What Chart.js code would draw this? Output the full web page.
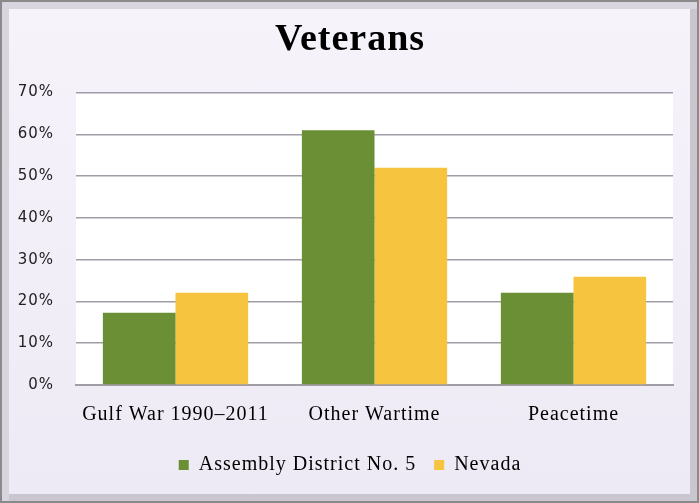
<!DOCTYPE html>
<html>
<head>
<meta charset="utf-8">
<script src="https://cdn.jsdelivr.net/npm/chart.js@4/dist/chart.umd.min.js"></script>
<style>
  html, body { margin: 0; padding: 0; background: #ffffff; }
  #frame {
    position: relative;
    width: 699px; height: 503px;
    box-sizing: border-box;
    border: 2px solid #8a8a8a;
    background: linear-gradient(#f6f3fb, #eeeaf5);
    box-shadow: inset 9px 9px 0 -2px #d8d5df, inset -9px -9px 0 -2px #c9c6cf;
  }
  #chVeterans { position: absolute; left: 0; top: 0; }
</style>
</head>
<body>
<div id="frame"><canvas id="chVeterans" width="695" height="499"></canvas></div>
<script>
"use strict";

var categories = ['Gulf War 1990–2011', 'Other Wartime', 'Peacetime'];
var district5 = [17.3, 61.0, 22.1];
var nevada = [22.1, 52.0, 25.9];
var yTicks = [0, 10, 20, 30, 40, 50, 60, 70];

// canvas text in the picture is widely spaced
var spacing = {
  id: 'spacing',
  beforeUpdate: function(chart) { chart.ctx.letterSpacing = '1px'; },
  beforeDraw: function(chart) { chart.ctx.letterSpacing = '1px'; }
};

var whiteArea = {
  id: 'whiteArea',
  beforeDraw: function(chart) {
    var a = chart.chartArea;
    var ctx = chart.ctx;
    ctx.save();
    ctx.fillStyle = '#ffffff';
    ctx.fillRect(a.left, a.top, a.right - a.left, a.bottom - a.top);
    ctx.restore();
  }
};

function setChartBar() {
  var serif = "'Liberation Serif', 'Times New Roman', serif";

  var barData = {
    labels: categories,
    datasets: [
      {
        label: 'Assembly District No. 5',
        backgroundColor: '#6b8f35',
        borderWidth: 0,
        data: district5
      },
      {
        label: 'Nevada',
        backgroundColor: '#f6c43e',
        borderWidth: 0,
        data: nevada
      }
    ]
  };

  var barOptions = {
    responsive: false,
    animation: false,
    layout: { padding: { left: 25, right: 24, top: 0, bottom: 16 } },
    datasets: { bar: { categoryPercentage: 0.73, barPercentage: 1.0 } },
    plugins: {
      title: {
        display: true,
        text: 'Veterans',
        color: '#000000',
        font: { family: serif, size: 38, weight: 'bold' },
        padding: { top: 15, bottom: 30 }
      },
      legend: {
        position: 'bottom',
        labels: {
          color: '#000000',
          boxWidth: 10, boxHeight: 10,
          padding: 18,
          font: { family: serif, size: 20 }
        }
      },
      tooltip: { enabled: false }
    },
    scales: {
      x: {
        afterFit: function(scale) { scale.height = 52; },
        grid: { display: false, drawTicks: false },
        border: { display: true, color: '#a09da6', width: 2 },
        ticks: { color: '#000000', padding: 18, font: { family: serif, size: 20 } }
      },
      y: {
        min: 0, max: 70,
        afterBuildTicks: function(scale) {
          scale.ticks = yTicks.map(function(v) { return { value: v }; });
        },
        afterFit: function(scale) {
          scale.width = 49;
          // let the labels run left of the narrow axis box
          scale._computeLabelArea = function() { return undefined; };
        },
        grid: { color: '#a09da6', lineWidth: 1.5, drawTicks: false },
        border: { display: false },
        ticks: {
          color: '#222222',
          padding: 22,
          font: { family: "'DejaVu Sans', sans-serif", size: 15 },
          callback: function(v) { return v + '%'; }
        }
      }
    }
  };

  var canvas = document.getElementById('chVeterans');
  if (canvas) {
    new Chart(canvas, {
      type: 'bar',
      data: barData,
      options: barOptions,
      plugins: [spacing, whiteArea]
    });
  }
}

setChartBar();
</script>
</body>
</html>
